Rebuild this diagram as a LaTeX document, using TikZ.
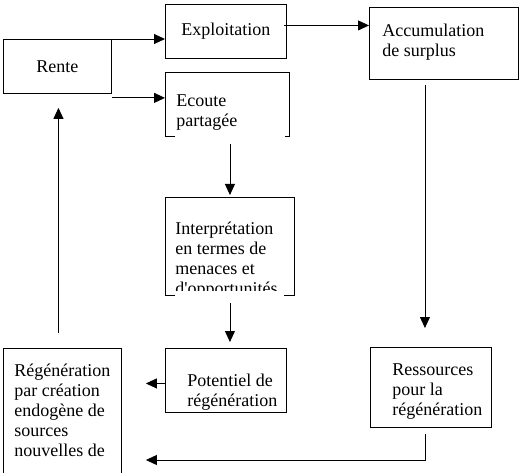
\documentclass[tikz,border=0pt]{standalone}
\usepackage{fontspec}
\setmainfont{Liberation Serif}
\usetikzlibrary{arrows.meta}
\usetikzlibrary{calc,positioning}

\begin{document}
\begin{tikzpicture}[x=1pt,y=-1pt,line width=0.9pt]
\useasboundingbox (0,0) rectangle (519,473);
% cadres
\begin{scope}[every node/.style={draw,anchor=north west,inner sep=0pt,font=\fontsize{18}{20}\selectfont}]
    \node[minimum width=108pt,minimum height=54pt] (rente) at (3,39) {Rente};
    \node[minimum width=121pt,minimum height=54pt] (exploit) at (165,4) {Exploitation};
    \node[draw=none,minimum width=124pt,minimum height=64pt] (ecoute) at (165,72) {};
    \node[minimum width=149pt,minimum height=72pt] (accum) at (369,7) {};
    \node[draw=none,minimum width=129pt,minimum height=98pt] (interp) at (165,197) {};
    \node[minimum width=121pt,minimum height=80pt] (ress) at (370,347) {};
    \node[minimum width=121pt,minimum height=64pt] (potentiel) at (165,348) {};
    \node[minimum width=118pt,minimum height=200pt] (regen) at (3,348) {};
\end{scope}
% bords ouverts en bas
\draw ([xshift=10pt]ecoute.south west) -- (ecoute.south west) |- (ecoute.north east)
      -- (ecoute.south east) -- ([xshift=-5pt]ecoute.south east);
\draw ([xshift=10pt]interp.south west) -- (interp.south west) |- (interp.north east)
      -- (interp.south east) -- ([xshift=-11pt]interp.south east);
% textes (ancre sur la derniere ligne)
\begin{scope}[every node/.style={anchor=base west,align=left,inner sep=0pt,font=\fontsize{18}{20}\selectfont}]
    \node (accumtxt) at (382,56.5) {Accumulation\\de surplus};
    \node (ecoutetxt) at (176,126.5) {Ecoute\\partagée};
    \begin{scope}
        \clip (160,190) rectangle (300,290);
        \node (interptxt) at (175,294) {Interprétation\\en termes de\\menaces et\\d\textquotesingle opportunités};
    \end{scope}
    \node (resstxt) at (392,415) {Ressources\\pour la\\régénération};
    \node (potentieltxt) at (187,406) {Potentiel de\\régénération};
    \node (regentxt) at (14,456) {Régénération\\par création\\endogène de\\sources\\nouvelles de};
\end{scope}
% fleches
\begin{scope}[>={Triangle[length=11pt,width=10pt]}]
    \draw[->] (rente.north east) -- (rente.north east -| exploit.west);
    \draw[->] ($(rente.south east)+(0,4)$) -- ($(rente.south east -| ecoute.west)+(0,4)$);
    \draw[->] ($(exploit.east)+(-3,-6)$) -- ($(exploit.east -| accum.west)+(0,-6)$);
    \draw[->] ($(ecoute.south -| interp.north)+(0,7)$) -- ($(interp.north)+(0,-2)$);
    \draw[->] ($(interp.south)+(0,7)$) -- ($(interp.south |- potentiel.north)+(0,-6)$);
    \draw[->] ($(accum.south -| ress.north)+(-6,5)$) -- ($(ress.north)+(-6,-19)$);
    \draw[->] ($(ress.south)+(-6,6)$) |- ($(regen.north east)+(24,112)$);
    \draw[->] ($(potentiel.west)+(0,3)$) -- ($(potentiel.west -| regen.east)+(24,3)$);
    \draw[->] ($(regen.north -| rente.south)+(1,-15)$) -- ($(rente.south)+(1,14)$);
\end{scope}
\end{tikzpicture}
\end{document}
